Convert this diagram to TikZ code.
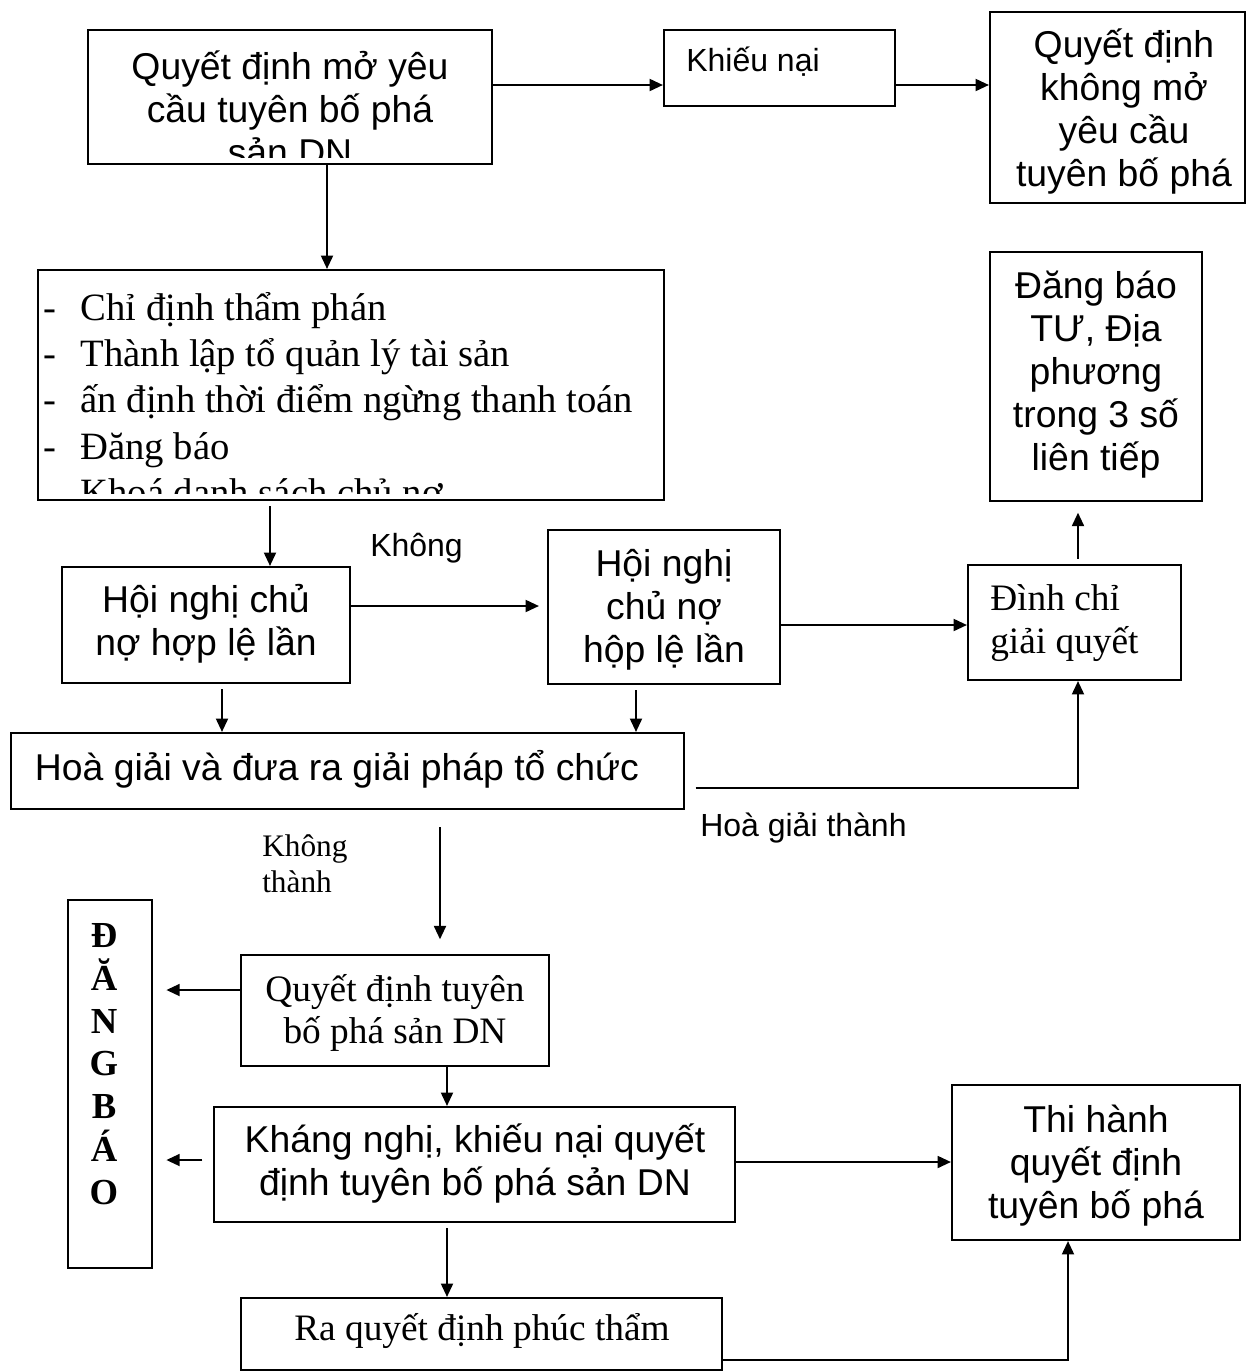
\documentclass[tikz,border=0pt]{standalone}
\usepackage{fontspec}
\setmainfont{Liberation Serif}
\setsansfont{Liberation Sans}
\usetikzlibrary{arrows.meta,fit,calc}
\begin{document}
\begin{tikzpicture}[x=0.75pt,y=-0.75pt,
  box/.style={draw,line width=1.6pt,inner sep=0pt},
  sanstxt/.style={font=\sffamily\fontsize{28}{32.25}\selectfont,align=center,inner sep=0pt},
  smallsans/.style={font=\sffamily\fontsize{24}{28}\selectfont,inner sep=0pt},
  sertxt/.style={font=\rmfamily\fontsize{28}{32.25}\selectfont,align=center,inner sep=0pt},
  smallser/.style={font=\rmfamily\fontsize{23.5}{27}\selectfont,align=left,inner sep=0pt},
  arr/.style={line width=1.4pt,-{Triangle[length=10pt,width=9pt]}},
  ln/.style={line width=1.4pt}]
\useasboundingbox (0,0) rectangle (1260,1372);
\fill[white] (0,0) rectangle (1260,1372);

% boxes
\node[box,fit={(88,30)(492,164)}] (A) {};
\node[box,fit={(664,30)(895,106)}] (K) {};
\node[box,fit={(990,12)(1245,203)}] (C) {};
\node[box,fit={(38,270)(664,500)}] (L) {};
\node[box,fit={(990,252)(1202,501)}] (T) {};
\node[box,fit={(62,567)(350,683)}] (H1) {};
\node[box,fit={(548,530)(780,684)}] (H2) {};
\node[box,fit={(968,565)(1181,680)}] (D) {};
\node[box,fit={(11,733)(684,809)}] (HG) {};
\node[box,fit={(68,900)(152,1268)}] (V) {};
\node[box,fit={(241,955)(549,1066)}] (Q) {};
\node[box,fit={(214,1107)(735,1222)}] (KN) {};
\node[box,fit={(952,1085)(1240,1240)}] (TH) {};
\node[box,fit={(241,1298)(722,1370)}] (R) {};

% texts
\begin{scope}
\clip (A.north west) rectangle ($(A.south east)+(0,-8)$);
\node[sanstxt] (At) at (290,108) {Quyết định mở yêu\\cầu tuyên bố phá\\sản DN};
\end{scope}
\node[smallsans,anchor=west] (Kt) at (686,62) {Khiếu nại};
\node[sanstxt] (Ct) at (1124,112) {Quyết định\\không mở\\yêu cầu\\tuyên bố phá};
\begin{scope}
\clip (L.north west) rectangle ($(L.south east)+(0,-8)$);
\node[font=\rmfamily\fontsize{29}{34.8}\selectfont,align=left,inner sep=0pt,anchor=west] (Lt) at (43,402)
 {\makebox[28pt][l]{-}Chỉ định thẩm phán\\
  \makebox[28pt][l]{-}Thành lập tổ quản lý tài sản\\
  \makebox[28pt][l]{-}ấn định thời điểm ngừng thanh toán\\
  \makebox[28pt][l]{-}Đăng báo\\
  \makebox[28pt][l]{-}Khoá danh sách chủ nợ};
\end{scope}
\node[sanstxt] (Tt) at (1096,375) {Đăng báo\\TƯ, Địa\\phương\\trong 3 số\\liên tiếp};
\node[sanstxt] (H1t) at (206,624) {Hội nghị chủ\\nợ hợp lệ lần};
\node[sanstxt] (H2t) at (664,610) {Hội nghị\\chủ nợ\\hộp lệ lần};
\node[sertxt,align=left,anchor=west] (Dt) at (990,623) {Đình chỉ\\giải quyết};
\node[sanstxt] (HGt) at (337,769) {Hoà giải và đưa ra giải pháp tổ chức};
\node[font=\rmfamily\bfseries\fontsize{27.5}{32.1}\selectfont,align=center,inner sep=0pt] (Vt) at (104,1064) {Đ\\Ă\\N\\G\\B\\Á\\O};
\node[sertxt,font=\rmfamily\fontsize{28}{31.5}\selectfont] (Qt) at (395,1013) {Quyết định tuyên\\bố phá sản DN};
\node[sanstxt] (KNt) at (475,1164) {Kháng nghị, khiếu nại quyết\\định tuyên bố phá sản DN};
\node[sanstxt] (THt) at (1096,1166) {Thi hành\\quyết định\\tuyên bố phá};
\node[sertxt] (Rt) at (482,1331) {Ra quyết định phúc thẩm};

% labels
\node[smallsans,anchor=west] (lb1) at (370,548) {Không};
\node[smallsans,anchor=west] (lb2) at (700,828) {Hoà giải thành};
\node[smallser,anchor=west] (lb3) at (262,864) {Không\\thành};

% helper coordinates
\coordinate (y85) at (0,85);
\coordinate (x327) at (327,0);
\coordinate (x270) at (270,0);
\coordinate (y606) at (0,606);
\coordinate (y625) at (0,625);
\coordinate (x1078) at (1078,0);
\coordinate (x222) at (222,0);
\coordinate (x636) at (636,0);
\coordinate (y788) at (0,788);
\coordinate (x440) at (440,0);
\coordinate (y990) at (0,990);
\coordinate (x447) at (447,0);
\coordinate (y1160) at (0,1160);
\coordinate (y1162) at (0,1162);
\coordinate (y1360) at (0,1360);
\coordinate (x1068) at (1068,0);

% connectors
\draw[arr] (A.east |- y85) -- (K.west |- y85);
\draw[arr] (K.east |- y85) -- (C.west |- y85);
\draw[arr] (A.south -| x327) -- (L.north -| x327);
\draw[arr,shorten <=4pt] (L.south -| x270) -- (H1.north -| x270);
\draw[arr,shorten >=6pt] (H1.east |- y606) -- (H2.west |- y606);
\draw[arr] (H2.east |- y625) -- (D.west |- y625);
\draw[arr,shorten <=4pt,shorten >=8pt] (D.north -| x1078) -- (T.south -| x1078);
\draw[arr,shorten <=4pt] (H1.south -| x222) -- (HG.north -| x222);
\draw[arr,shorten <=4pt] (H2.south -| x636) -- (HG.north -| x636);
\draw[arr,shorten <=8pt] (HG.east |- y788) -- (x1078 |- y788) -- (D.south -| x1078);
\draw[arr,shorten <=13pt,shorten >=11pt] (HG.south -| x440) -- (Q.north -| x440);
\draw[arr,shorten >=10pt] (Q.west |- y990) -- (V.east |- y990);
\draw[arr,shorten <=8pt,shorten >=10pt] (KN.west |- y1160) -- (V.east |- y1160);
\draw[arr] (KN.east |- y1162) -- (TH.west |- y1162);
\draw[arr] (Q.south -| x447) -- (KN.north -| x447);
\draw[arr,shorten <=4pt] (KN.south -| x447) -- (R.north -| x447);
\draw[arr] (R.east |- y1360) -- (x1068 |- y1360) -- (TH.south -| x1068);
\end{tikzpicture}
\end{document}
